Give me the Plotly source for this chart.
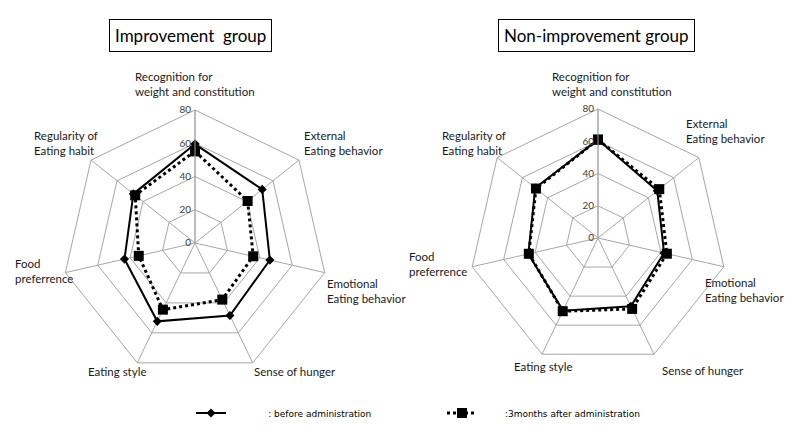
import plotly.graph_objects as go

W, H = 789, 430

categories = [
    "Recognition for<br>weight and constitution",
    "External<br>Eating behavior",
    "Emotional<br>Eating behavior",
    "Sense of hunger",
    "Eating style",
    "Food<br>preferrence",
    "Regularity of<br>Eating habit",
]
radial_ticks = [0, 20, 40, 60, 80]

improve_before = [59.5, 51.7, 46.2, 48.4, 52.3, 43.5, 47.4]
improve_after = [55.2, 40.5, 35.9, 37.8, 44.5, 34.7, 46.0]
nonimprove_before = [61.0, 47.0, 42.0, 47.0, 50.0, 44.3, 49.8]
nonimprove_after = [61.0, 48.6, 43.8, 48.8, 50.4, 44.0, 49.2]

titles = ["Improvement  group", "Non-improvement group"]
legend_names = ["\u00a0" * 13 + ": before administration", "\u00a0" * 8 + ":3months after administration"]

# layout (pixel positions)
left_center, left_r = (195, 243), 133
right_center, right_r = (598, 238), 129
left_label_px = [(133, 84), (302, 143), (325, 291), (252, 371), (86, 371), (13, 271), (32, 143)]
right_label_px = [(550, 84), (684, 131), (703, 290), (660, 370), (512, 366), (407, 264), (440, 143)]
title_px = [(190, 36), (596, 36)]

def px_domain(c, r):
    return dict(x=[(c[0] - r) / W, (c[0] + r) / W],
                y=[1 - (c[1] + r) / H, 1 - (c[1] - r) / H])

def closed(v):
    return list(v) + [v[0]]

cat_closed = closed(categories)
fig = go.Figure()

for i, (b, a) in enumerate([(improve_before, improve_after), (nonimprove_before, nonimprove_after)]):
    sp = "polar" if i == 0 else "polar2"
    fig.add_trace(go.Scatterpolar(
        r=closed(b), theta=cat_closed, subplot=sp, mode="lines+markers",
        line=dict(color="black", width=2), marker=dict(symbol="diamond", size=7, color="black"),
        name=legend_names[0], showlegend=(i == 0), legendgroup="b"))
    fig.add_trace(go.Scatterpolar(
        r=closed(a), theta=cat_closed, subplot=sp, mode="lines+markers",
        line=dict(color="black", width=3, dash="dot"), marker=dict(symbol="square", size=10, color="black"),
        name=legend_names[1], showlegend=(i == 0), legendgroup="a"))

def polar_style(c, r):
    return dict(
        domain=px_domain(c, r),
        bgcolor="white",
        gridshape="linear",
        radialaxis=dict(range=[0, 80], tickvals=radial_ticks, angle=90, side="counterclockwise",
                        tickangle=90,
                        showline=True, linecolor="#a6a6a6", linewidth=1, gridcolor="#a6a6a6",
                        gridwidth=1, ticks="", tickfont=dict(family="Lato", size=10, color="#404040")),
        angularaxis=dict(rotation=90, direction="clockwise", showticklabels=False, ticks="",
                         showline=True, linecolor="#a6a6a6", linewidth=1, gridcolor="#a6a6a6",
                         gridwidth=1),
    )

annotations = []
for labels in (left_label_px, right_label_px):
    for text, (x, y) in zip(categories, labels):
        annotations.append(dict(text=text, x=x / W, y=1 - y / H, xref="paper", yref="paper",
                                xanchor="left", yanchor="middle", align="left", showarrow=False,
                                font=dict(family="Lato", size=11.5, color="#1a1a1a")))
for t, (x, y) in zip(titles, title_px):
    annotations.append(dict(text=t, x=x / W, y=1 - y / H, xref="paper", yref="paper",
                            xanchor="center", yanchor="middle", showarrow=False,
                            bordercolor="black", borderwidth=1, borderpad=5, bgcolor="white",
                            font=dict(family="Lato", size=17, color="black")))

fig.update_layout(
    width=W, height=H,
    margin=dict(l=0, r=0, t=0, b=0),
    paper_bgcolor="white",
    polar=polar_style(left_center, left_r),
    polar2=polar_style(right_center, right_r),
    annotations=annotations,
    showlegend=True,
    legend=dict(orientation="h", x=191 / W, y=1 - 413 / H, xanchor="left", yanchor="middle",
                entrywidth=206, entrywidthmode="pixels",
                font=dict(family="DejaVu Sans", size=9, color="black"), bgcolor="rgba(0,0,0,0)"),
)

fig.write_html("out.html", config={"displayModeBar": False},
               post_script="document.body.style.margin='0';")
